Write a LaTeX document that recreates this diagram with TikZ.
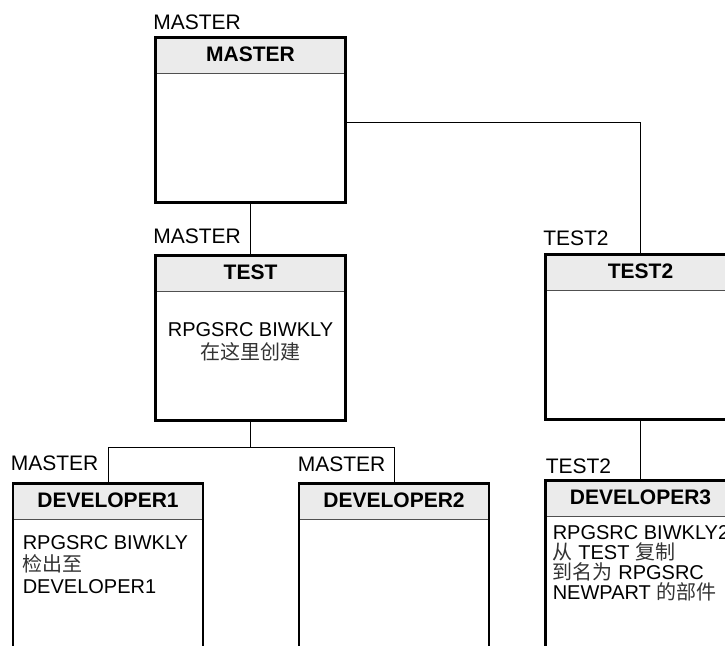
\documentclass[tikz,border=0pt]{standalone}
\usepackage{fontspec}
\setmainfont{Liberation Sans}
\newfontfamily\cjk{Noto Sans CJK SC}
\usetikzlibrary{positioning}
\definecolor{hdrgray}{RGB}{235,235,235}
\definecolor{rulegray}{RGB}{80,80,80}
\newcommand{\zh}[1]{{\cjk\color{black!80}#1}}

\tikzset{
  lib/.style={draw, line width=2.8pt, minimum width=190pt, minimum height=#1, inner sep=0pt, anchor=north,
    path picture={
      \fill[hdrgray] (path picture bounding box.north west) rectangle ([yshift=-36pt]path picture bounding box.north east);
      \draw[rulegray, line width=1.3pt] ([yshift=-36pt]path picture bounding box.north west) -- ([yshift=-36pt]path picture bounding box.north east);
    }},
  libname/.style={font=\fontsize{21}{21}\selectfont\bfseries, inner sep=0pt},
  owner/.style={font=\fontsize{21}{21}\selectfont, inner sep=0pt, anchor=base west},
  note/.style={font=\fontsize{20}{#1}\selectfont, inner sep=0pt},
  link/.style={line width=1pt},
}

\begin{document}
\begin{tikzpicture}[x=1pt, y=-1pt]
    \useasboundingbox (0,0) rectangle (725,645);
    \clip (0,0) rectangle (725,645);

    % Draw libraries
    \node[lib=165] (master) at (250.5,36.3) {};
    \node[lib=165] (test) at (250.5,254.3) {};
    \node[lib=165] (test2) at (640.5,253.3) {};
    \node[lib=200] (dev1) at (108,482.3) {};
    \node[lib=200] (dev2) at (394,482.3) {};
    \node[lib=200] (dev3) at (640.5,479.3) {};

    % Library names
    \node[libname] (masterN) at ([yshift=-18pt]master.north) {MASTER};
    \node[libname] (testN) at ([yshift=-18pt]test.north) {TEST};
    \node[libname] (test2N) at ([yshift=-18pt]test2.north) {TEST2};
    \node[libname] (dev1N) at ([yshift=-18pt]dev1.north) {DEVELOPER1};
    \node[libname] (dev2N) at ([yshift=-18pt]dev2.north) {DEVELOPER2};
    \node[libname] (dev3N) at ([yshift=-18pt]dev3.north) {DEVELOPER3};

    % Owners above the boxes
    \node[owner] (masterL) at ([xshift=-1pt,yshift=7pt]master.north west) {MASTER};
    \node[owner] (testL) at ([xshift=-1pt,yshift=11pt]test.north west) {MASTER};
    \node[owner] (test2L) at ([xshift=-1pt,yshift=8pt]test2.north west) {TEST2};
    \node[owner] (dev1L) at ([xshift=-1pt,yshift=12pt]dev1.north west) {MASTER};
    \node[owner] (dev2L) at ([xshift=0pt,yshift=11pt]dev2.north west) {MASTER};
    \node[owner] (dev3L) at ([xshift=1.5pt,yshift=6pt]dev3.north west) {TEST2};

    % Notes in the boxes
    \node[note=23, align=center, anchor=north] (testT) at ([yshift=-68pt]test.north)
        {RPGSRC BIWKLY\\\zh{在这里创建}};
    \node[note=22, align=left, anchor=north west] (dev1T) at ([xshift=11pt,yshift=-53pt]dev1.north west)
        {RPGSRC BIWKLY\\\zh{检出至}\\DEVELOPER1};
    \node[note=20, align=left, anchor=north west] (dev3T) at ([xshift=8.5pt,yshift=-46pt]dev3.north west)
        {RPGSRC BIWKLY2\\\zh{从} TEST \zh{复制}\\\zh{到名为} RPGSRC\\NEWPART \zh{的部件}};

    % Draw connectors
    \coordinate (split) at ([yshift=-25pt]test.south);
    \draw[link] ([yshift=-2pt]master.east) -| (test2.north);
    \draw[link] (master.south) -- (test.north);
    \draw[link] (test.south) -- (split);
    \draw[link] (dev1.north) |- (split) -| (dev2.north);
    \draw[link] (test2.south) -- (dev3.north);

\end{tikzpicture}
\end{document}
